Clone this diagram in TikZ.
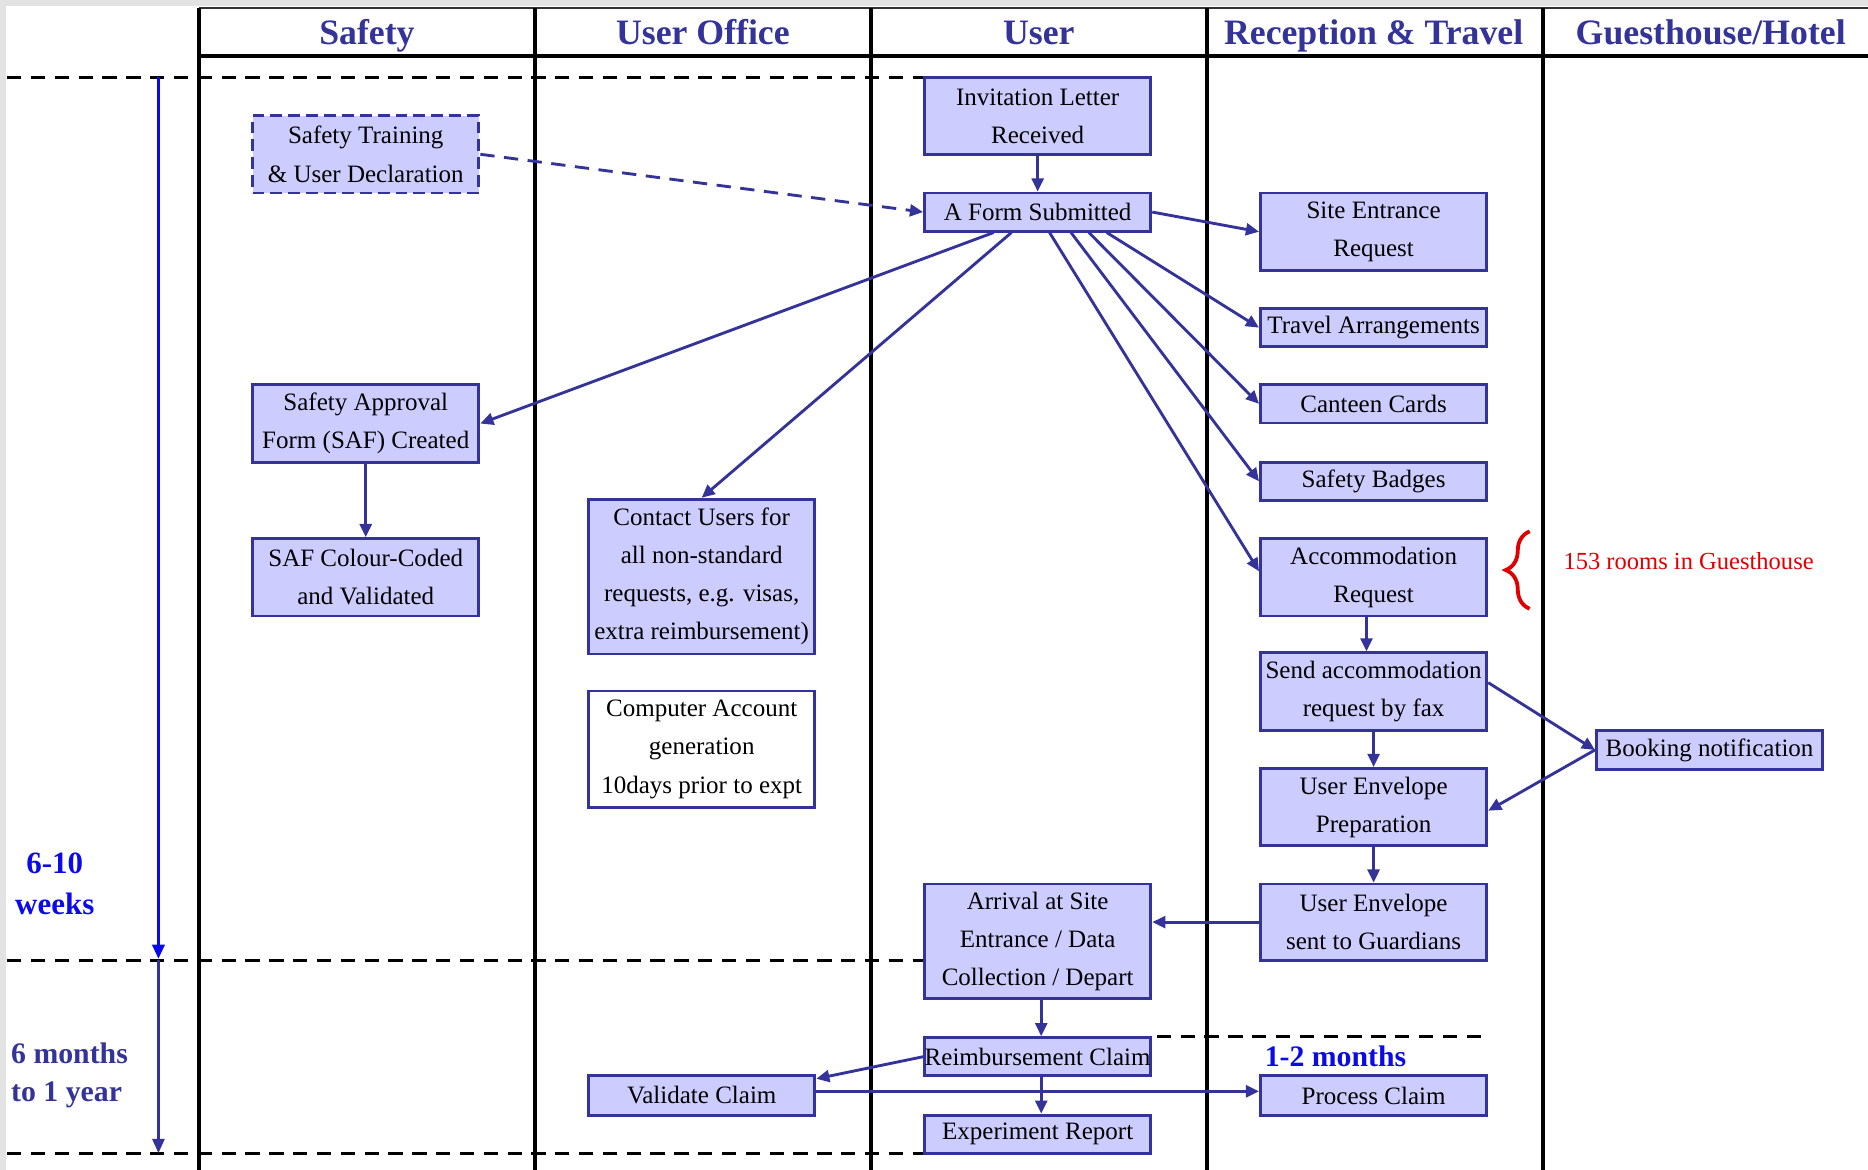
\documentclass[tikz,border=0pt]{standalone}
\usepackage{fontspec}
\setmainfont{Liberation Serif}
\usetikzlibrary{arrows.meta,decorations.pathreplacing,calc}
\definecolor{navy}{RGB}{51,51,153}
\definecolor{boxfill}{RGB}{204,204,255}
\definecolor{tlblue}{RGB}{10,10,235}
\definecolor{notered}{RGB}{225,0,0}
\tikzset{
  box/.style={draw=navy, line width=1.2pt, fill=boxfill, minimum width=95pt, inner sep=0pt, align=center,
    font={\fontsize{10.5}{16}\selectfont}},
  lane/.style={line width=1.5pt, black},
  sep/.style={line width=1.2pt, black, dash pattern=on 6pt off 4pt},
  arr/.style={draw=navy, line width=1.2pt, -{Triangle[length=5.5pt,width=5pt]}},
  head/.style={font={\fontsize{15}{18}\selectfont\bfseries}, text=navy, anchor=base, inner sep=0pt},
  side/.style={font={\fontsize{13}{17}\selectfont\bfseries}},
}
\begin{document}
\begin{tikzpicture}[x=0.5pt,y=-0.5pt]
\useasboundingbox (0,0) rectangle (1568,982);
\fill[gray!22] (0,0) rectangle (1568,982);
\fill[white] (5,5) rectangle (1568,982);
% lanes
\draw[line width=0.8pt, black!80] (167,7) -- (1568,7);
\draw[lane] (167,47) -- (1568,47);
\foreach \x in {167,449,731,1013,1295} \draw[lane] (\x,7) -- (\x,982);
% headers
\node[head] (h1) at (308,37) {Safety};
\node[head] (h2) at (590,37) {User Office};
\node[head] (h3) at (872,37) {User};
\node[head] (h4) at (1153,37) {Reception \& Travel};
\node[head] (h5) at (1436,37) {Guesthouse/Hotel};
% separators
\draw[sep] (6,65) -- (776,65);
\draw[sep] (6,806) -- (776,806);
\draw[sep] (6,968) -- (776,968);
\draw[sep] (971,870) -- (1249,870);
% timeline
\draw[tlblue, line width=1.5pt, -{Triangle[length=6pt,width=5pt]}] (133,65) -- (133,805);
\draw[navy, line width=1.2pt, -{Triangle[length=6pt,width=5pt]}] (133,806) -- (133,968);
\node[side, text=tlblue, align=center, font={\fontsize{13}{17.5}\selectfont\bfseries}] (t1) at (46,742) {6-10\\weeks};
\node[side, text=navy, align=left, anchor=west, inner sep=0pt, font={\fontsize{12.5}{16}\selectfont\bfseries}] (t2) at (9,903) {6 months\\to 1 year};
\node[side, text=tlblue, font={\fontsize{12.5}{16}\selectfont\bfseries}] (t3) at (1121,887) {1-2 months};
% boxes
\node[box, minimum height=32.5pt, dashed, dash pattern=on 5pt off 2.5pt] (train) at (307,129.5) {Safety Training\\\& User Declaration};
\node[box, minimum height=32.5pt] (saf) at (307,355.5) {Safety Approval\\Form (SAF) Created};
\node[box, minimum height=32.5pt] (safcc) at (307,484.5) {SAF Colour-Coded\\and Validated};
\node[box, minimum height=65pt] (contact) at (589,484) {Contact Users for\\all non-standard\\requests, e.g. visas,\\extra reimbursement)};
\node[box, minimum height=49pt, fill=white] (comp) at (589,629) {Computer Account\\generation\\10days prior to expt};
\node[box, minimum height=16.5pt] (valid) at (589,919.5) {Validate Claim};
\node[box, minimum height=32.5pt] (invit) at (871,97.5) {Invitation Letter\\Received};
\node[box, minimum height=16pt] (aform) at (871,178) {A Form Submitted};
\node[box, minimum height=48pt] (arrival) at (871,790) {Arrival at Site\\Entrance / Data\\Collection / Depart};
\node[box, minimum height=16pt] (reimb) at (871,887) {Reimbursement Claim};
\node[box, minimum height=16pt] (exper) at (871,952) {Experiment Report};
\node[box, minimum height=32.5pt] (site) at (1153,194.5) {Site Entrance\\Request};
\node[box, minimum height=16pt] (travel) at (1153,275) {Travel Arrangements};
\node[box, minimum height=16pt] (canteen) at (1153,339) {Canteen Cards};
\node[box, minimum height=16pt] (badges) at (1153,404) {Safety Badges};
\node[box, minimum height=32.5pt] (accom) at (1153,484.5) {Accommodation\\Request};
\node[box, minimum height=32.5pt] (send) at (1153,580.5) {Send accommodation\\request by fax};
\node[box, minimum height=32.5pt] (prep) at (1153,677.5) {User Envelope\\Preparation};
\node[box, minimum height=32pt] (sent) at (1153,774) {User Envelope\\sent to Guardians};
\node[box, minimum height=16.5pt] (process) at (1153,919.5) {Process Claim};
\node[box, minimum height=16.5pt] (booking) at (1435,629.5) {Booking notification};
% note
\draw[notered, line width=1.6pt, decorate, decoration={brace, amplitude=10pt}] (1284,511) -- (1284,446);
\node[anchor=west, inner sep=0pt, text=notered, font={\fontsize{10.3}{13}\selectfont}] (note) at (1312,471) {153 rooms in Guesthouse};
% arrows
\draw[arr] (invit) -- (aform);
\draw[arr, dash pattern=on 6pt off 4pt] (train.east) -- (aform.west);
\draw[arr] (aform.east) -- (site.west);
\draw[arr] ([xshift=-18.5pt]aform.south) -- (saf.east);
\draw[arr] ([xshift=-11pt]aform.south) -- (contact.north);
\draw[arr] ([xshift=5pt]aform.south) -- ([yshift=2.5pt]accom.west);
\draw[arr] ([xshift=14pt]aform.south) -- (badges.west);
\draw[arr] ([xshift=21.5pt]aform.south) -- (canteen.west);
\draw[arr] ([xshift=29pt]aform.south) -- (travel.west);
\draw[arr] (saf) -- (safcc);
\draw[arr] ([xshift=-3pt]accom.south) -- ([xshift=-3pt]send.north);
\draw[arr] (send) -- (prep);
\draw[arr] (prep) -- (sent);
\draw[arr] ([yshift=3.75pt]send.east) -- (booking.west);
\draw[arr] (booking.west) -- ([yshift=-1.5pt]prep.east);
\draw[arr] (sent.west) -- (sent.west -| arrival.east);
\draw[arr] ([xshift=1.5pt]arrival.south) -- ([xshift=1.5pt]reimb.north);
\draw[arr] ([xshift=1.5pt]reimb.south) -- ([xshift=1.5pt]exper.north);
\draw[arr] (reimb.west) -- ([yshift=7pt]valid.east);
\draw[arr] ([yshift=1.75pt]valid.east) -- ([yshift=1.75pt]process.west);
\end{tikzpicture}
\end{document}
